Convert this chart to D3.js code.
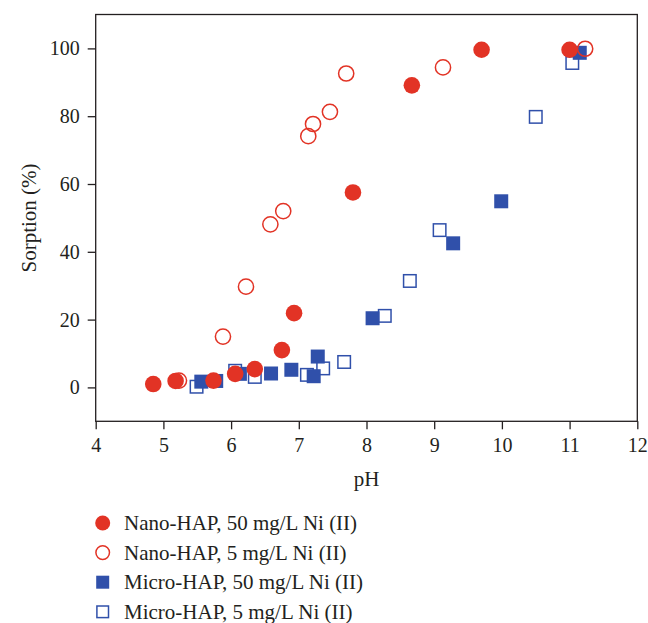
<!DOCTYPE html>
<html>
<head>
<meta charset="utf-8">
<script src="https://cdn.jsdelivr.net/npm/d3@7"></script>
<style>
  html, body { margin: 0; padding: 0; background: #fff; }
  svg { display: block; }
  text { font-family: "Liberation Serif", "DejaVu Serif", serif; fill: #231f20; }
</style>
</head>
<body>
<div id="chart"></div>
<script>
// ---- data ----
const nano50_pH   = [4.85, 5.18, 5.74, 6.06, 6.35, 6.75, 6.93, 7.80, 8.67, 9.70, 11.00];
const nano50_sorp = [1.0, 1.9, 2.0, 4.0, 5.4, 11.0, 21.9, 57.5, 89.1, 99.6, 99.6];

const nano5_pH    = [5.23, 5.88, 6.22, 6.58, 6.77, 7.14, 7.21, 7.46, 7.70, 9.13, 11.23];
const nano5_sorp  = [2.0, 15.0, 29.7, 48.1, 52.0, 74.1, 77.7, 81.3, 92.6, 94.4, 99.9];

const micro50_pH   = [5.56, 5.78, 6.13, 6.59, 6.89, 7.22, 7.28, 8.09, 9.28, 9.99, 11.15];
const micro50_sorp = [1.7, 1.9, 4.0, 4.1, 5.2, 3.3, 9.1, 20.4, 42.5, 54.9, 98.7];

const micro5_pH    = [5.49, 6.06, 6.35, 7.12, 7.36, 7.67, 8.27, 8.64, 9.08, 10.50, 11.04];
const micro5_sorp  = [0.2, 4.9, 3.1, 3.7, 5.6, 7.5, 21.1, 31.4, 46.4, 79.8, 95.7];

const xTicks = [4, 5, 6, 7, 8, 9, 10, 11, 12];
const yTicks = [0, 20, 40, 60, 80, 100];

const seriesNames = [
  "Nano-HAP, 50 mg/L Ni (II)",
  "Nano-HAP, 5 mg/L Ni (II)",
  "Micro-HAP, 50 mg/L Ni (II)",
  "Micro-HAP, 5 mg/L Ni (II)"
];

(function () {
  const W = 648, H = 623;
  const RED = "#e23325", BLUE = "#3050aa";
  const plot = { left: 95.7, right: 637.3, top: 14.5, bottom: 421.3 };

  const svg = d3.select("#chart").append("svg")
    .attr("width", W).attr("height", H)
    .attr("viewBox", `0 0 ${W} ${H}`);

  const x = d3.scaleLinear().domain([4, 12]).range([plot.left, plot.right]);
  const y = d3.scaleLinear().domain([-10, 110]).range([plot.bottom, plot.top]);

  // frame
  svg.append("rect")
    .attr("x", plot.left).attr("y", plot.top)
    .attr("width", plot.right - plot.left).attr("height", plot.bottom - plot.top)
    .attr("fill", "none").attr("stroke", "#231f20").attr("stroke-width", 1.3);

  // x axis: major + minor ticks
  const xAxis = svg.append("g").attr("transform", `translate(0,${plot.bottom})`);
  xAxis.call(d3.axisBottom(x).tickValues(d3.range(4.5, 12, 1)).tickSize(4).tickFormat(""));
  xAxis.call(d3.axisBottom(x).tickValues(xTicks).tickSize(8).tickPadding(9).tickFormat(d3.format("d")));
  xAxis.selectAll(".domain").remove();
  xAxis.selectAll("line").attr("stroke", "#231f20").attr("stroke-width", 1.3);
  xAxis.selectAll("text").style("font-size", "20px").attr("fill", "#231f20");

  // y axis
  const yAxis = svg.append("g").attr("transform", `translate(${plot.left},0)`);
  yAxis.call(d3.axisLeft(y).tickValues([-10, 10, 30, 50, 70, 90]).tickSize(4).tickFormat(""));
  yAxis.call(d3.axisLeft(y).tickValues(yTicks).tickSize(8).tickPadding(8).tickFormat(d3.format("d")));
  yAxis.selectAll(".domain").remove();
  yAxis.selectAll("line").attr("stroke", "#231f20").attr("stroke-width", 1.3);
  yAxis.selectAll("text").style("font-size", "20px").attr("fill", "#231f20");

  // axis titles
  svg.append("text")
    .attr("x", (plot.left + plot.right) / 2).attr("y", 486)
    .attr("text-anchor", "middle").style("font-size", "21px").text("pH");
  svg.append("text")
    .attr("transform", `translate(36,218) rotate(-90)`)
    .attr("text-anchor", "middle").style("font-size", "21px").text("Sorption (%)");

  const zip = (xs, ys) => xs.map((v, i) => ({ pH: v, s: ys[i] }));
  const sq = 14;

  // open squares: micro 5
  svg.append("g").selectAll("rect")
    .data(zip(micro5_pH, micro5_sorp)).join("rect")
    .attr("x", d => x(d.pH) - (sq - 1.5) / 2).attr("y", d => y(d.s) - (sq - 1.5) / 2)
    .attr("width", sq - 1.5).attr("height", sq - 1.5)
    .attr("fill", "none").attr("stroke", BLUE).attr("stroke-width", 1.5);

  // filled squares: micro 50
  svg.append("g").selectAll("rect")
    .data(zip(micro50_pH, micro50_sorp)).join("rect")
    .attr("x", d => x(d.pH) - sq / 2).attr("y", d => y(d.s) - sq / 2)
    .attr("width", sq).attr("height", sq)
    .attr("fill", BLUE);

  // open circles: nano 5
  svg.append("g").selectAll("circle")
    .data(zip(nano5_pH, nano5_sorp)).join("circle")
    .attr("cx", d => x(d.pH)).attr("cy", d => y(d.s)).attr("r", 7.6)
    .attr("fill", "none").attr("stroke", RED).attr("stroke-width", 1.5);

  // filled circles: nano 50
  svg.append("g").selectAll("circle")
    .data(zip(nano50_pH, nano50_sorp)).join("circle")
    .attr("cx", d => x(d.pH)).attr("cy", d => y(d.s)).attr("r", 8.3)
    .attr("fill", RED);

  // legend
  const lg = svg.append("g");
  const rowY = i => 523 + i * 29.6;
  const mx = 102.7;
  lg.append("circle").attr("cx", mx).attr("cy", rowY(0)).attr("r", 7.5).attr("fill", RED);
  lg.append("circle").attr("cx", mx).attr("cy", rowY(1)).attr("r", 6.8)
    .attr("fill", "none").attr("stroke", RED).attr("stroke-width", 1.5);
  lg.append("rect").attr("x", mx - 6.5).attr("y", rowY(2) - 6.5).attr("width", 13).attr("height", 13).attr("fill", BLUE);
  lg.append("rect").attr("x", mx - 5.8).attr("y", rowY(3) - 5.8).attr("width", 11.6).attr("height", 11.6)
    .attr("fill", "none").attr("stroke", BLUE).attr("stroke-width", 1.5);

  lg.selectAll("text").data(seriesNames).join("text")
    .attr("x", 124).attr("y", (d, i) => rowY(i) + 7)
    .style("font-size", "21px").text(d => d);
})();
</script>
</body>
</html>
